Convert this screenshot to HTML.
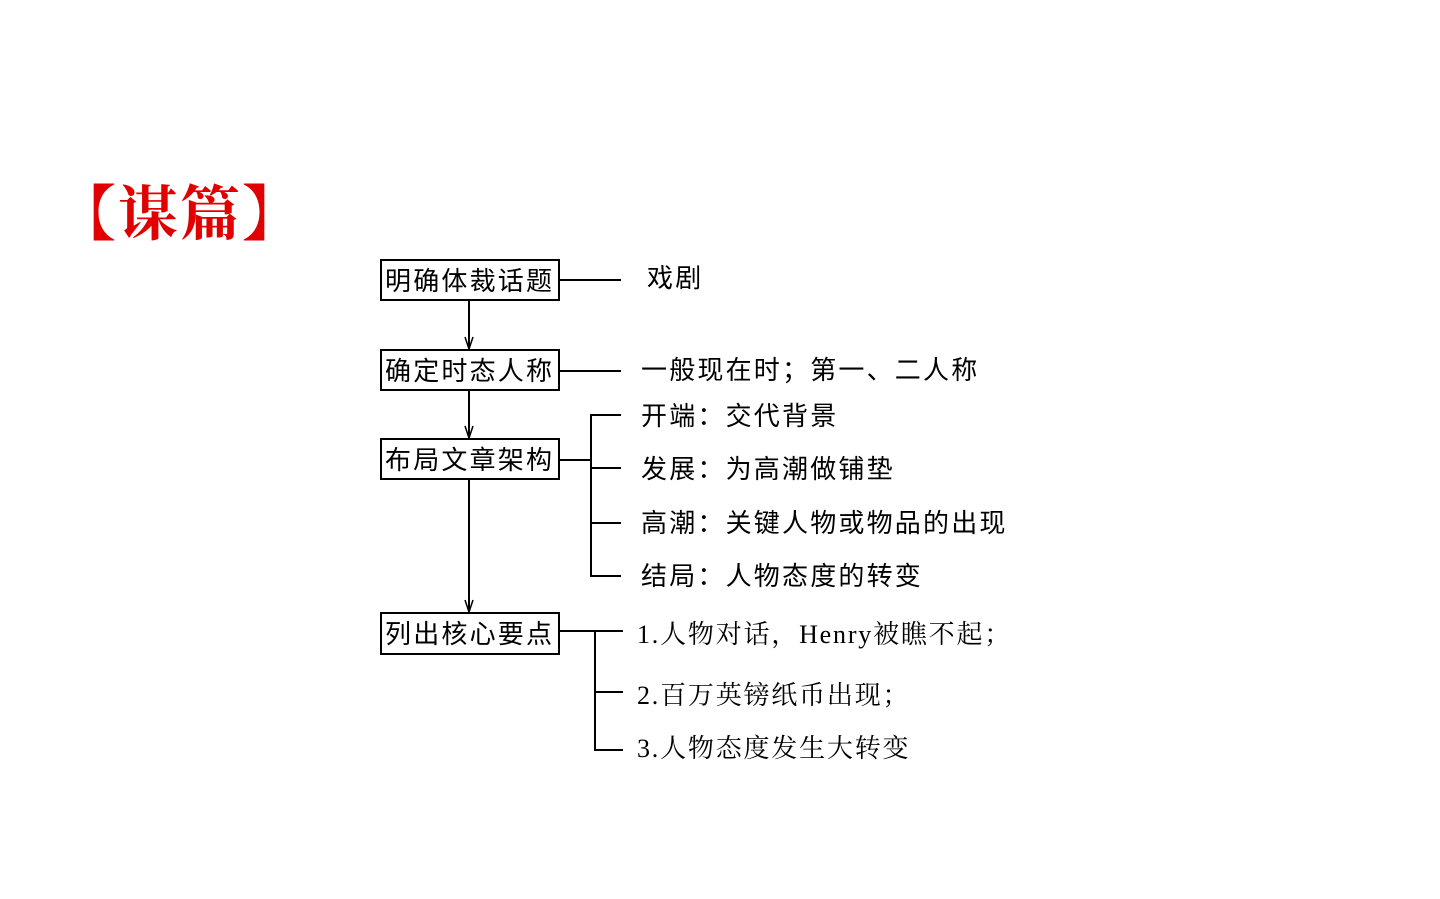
<!DOCTYPE html>
<html><head><meta charset="utf-8"><style>
html,body{margin:0;padding:0;background:#fff;}
svg{display:block}
.s{font-family:"Liberation Sans","Noto Sans CJK SC",sans-serif;font-size:26px;fill:#000;letter-spacing:2.2px}
.r{font-family:"Liberation Serif","Noto Serif CJK SC",serif;font-size:26px;fill:#000;letter-spacing:1.8px}
</style></head><body>
<svg width="1440" height="899" viewBox="0 0 1440 899" xmlns="http://www.w3.org/2000/svg">
<text x="56" y="235" font-family="'Noto Serif CJK SC',serif" font-size="60" font-weight="bold" fill="#e00000" letter-spacing="2">【谋篇】</text>
<g fill="none" stroke="#000" stroke-width="2">
<rect x="381" y="260" width="178" height="40"/>
<rect x="381" y="350" width="178" height="40"/>
<rect x="381" y="439" width="178" height="40"/>
<rect x="381" y="613" width="178" height="41"/>
<line x1="469" y1="300" x2="469" y2="348"/>
<line x1="469" y1="390" x2="469" y2="437"/>
<line x1="469" y1="479" x2="469" y2="611"/>
<line x1="559" y1="280" x2="621" y2="280"/>
<line x1="559" y1="371" x2="621" y2="371"/>
<line x1="559" y1="460" x2="591" y2="460"/>
<path d="M621,415 H591 V576 H621 M591,468 H621 M591,523 H621"/>
<path d="M559,631 H623 M595,631 V750 H623 M595,692 H623"/>
</g>
<g fill="none" stroke="#000" stroke-width="1.5">
<path d="M465,337 L469,349 L473,337"/>
<path d="M465,426 L469,438 L473,426"/>
<path d="M465,600 L469,612 L473,600"/>
</g>
<g class="s">
<text x="385" y="290">明确体裁话题</text>
<text x="385" y="380">确定时态人称</text>
<text x="385" y="469">布局文章架构</text>
<text x="385" y="643">列出核心要点</text>
<text x="647" y="287">戏剧</text>
<text x="641" y="379">一般现在时；第一、二人称</text>
<text x="641" y="425">开端：交代背景</text>
<text x="641" y="478">发展：为高潮做铺垫</text>
<text x="641" y="532">高潮：关键人物或物品的出现</text>
<text x="641" y="585">结局：人物态度的转变</text>
</g>
<g class="r">
<text x="637" y="643">1.人物对话，Henry被瞧不起；</text>
<text x="637" y="704">2.百万英镑纸币出现；</text>
<text x="637" y="757">3.人物态度发生大转变</text>
</g>
</svg>
</body></html>
